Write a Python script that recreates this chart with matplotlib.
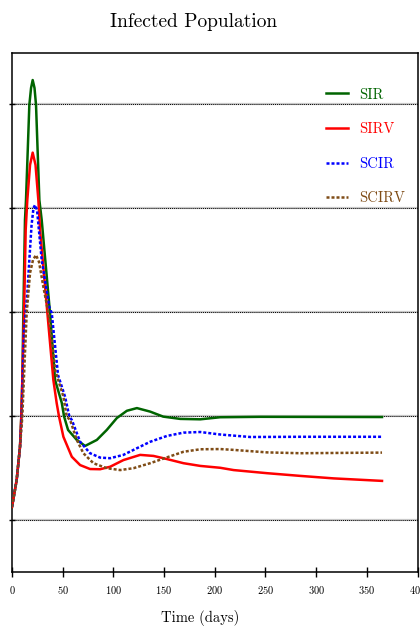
import matplotlib
matplotlib.use("Agg")
import matplotlib.pyplot as plt

plt.rcParams['font.family'] = ['cmr10', 'DejaVu Serif']
plt.rcParams['axes.formatter.use_mathtext'] = True

# values (day, infected fraction)
sir_days = [0, 4.6, 7.9, 9.2, 10.2, 11.2, 12.8, 13.8, 17.1, 18.8, 20.4, 22.2, 23.7, 27, 29.3,
            37.5, 42.5, 49.1, 51.4, 55.3, 63.9, 72.1, 83.7, 93.5, 103.4, 113.3, 123.2, 136.3,
            149.1, 165.9, 185.7, 205.4, 245, 365]
sir_vals = [0.0063, 0.0192, 0.0352, 0.05, 0.0673, 0.0995, 0.1442, 0.1538, 0.1995, 0.2077,
            0.2115, 0.2077, 0.1995, 0.1538, 0.1442, 0.0995, 0.0673, 0.0563, 0.0497, 0.0433,
            0.0385, 0.0356, 0.0385, 0.0433, 0.049, 0.0525, 0.0538, 0.0521, 0.0497, 0.0486,
            0.0484, 0.0494, 0.0496, 0.0495]

sirv_days = [0, 4.6, 7.9, 9.2, 10.2, 11.9, 13.5, 15.1, 17.8, 20.4, 23.2, 26, 27.7, 34.9, 40.8,
             44.1, 46.4, 50.7, 59, 67.2, 77, 86.9, 96.8, 109.9, 126.4, 139.6, 152.8, 169.2,
             185.7, 205.4, 218.6, 251.6, 284.4, 317.3, 365]
sirv_vals = [0.0063, 0.0192, 0.0352, 0.05, 0.0673, 0.0995, 0.1394, 0.1538, 0.1707, 0.1766,
             0.1707, 0.1538, 0.1394, 0.0995, 0.0673, 0.0561, 0.0497, 0.04, 0.0304, 0.0264,
             0.0245, 0.0244, 0.0256, 0.0288, 0.0313, 0.0308, 0.0293, 0.0273, 0.026, 0.0251,
             0.024, 0.0225, 0.0212, 0.02, 0.0188]

scir_days = [0, 4.6, 7.9, 9.6, 11.9, 15.1, 17.1, 19.3, 21.2, 22.7, 24.7, 29.3, 36.8, 39.2,
             45.4, 52.3, 56.6, 59, 67.2, 77, 86.9, 96.8, 109.9, 123.2, 136.3, 152.8, 169.2,
             185.7, 205.4, 235, 284.4, 365]
scir_vals = [0.0063, 0.0192, 0.0352, 0.05, 0.0913, 0.1091, 0.125, 0.1418, 0.15, 0.1514, 0.149,
             0.125, 0.1024, 0.0995, 0.0697, 0.0593, 0.0497, 0.0481, 0.0376, 0.0321, 0.03,
             0.0297, 0.0313, 0.0345, 0.0376, 0.0404, 0.042, 0.0423, 0.0411, 0.0399, 0.04, 0.04]

scirv_days = [0, 4.6, 7.9, 10.2, 12.8, 14.5, 17.8, 20.7, 23.7, 26.7, 30.9, 35.9, 40.8, 42.5,
              50.7, 54, 57.3, 63.9, 70.4, 80.3, 93.5, 106.7, 119.8, 136.3, 152.8, 169.2,
              185.7, 205.4, 218.6, 251.6, 284.4, 365]
scirv_vals = [0.0063, 0.0192, 0.0352, 0.05, 0.0803, 0.0995, 0.1188, 0.125, 0.1274, 0.124,
              0.1122, 0.0995, 0.0803, 0.0721, 0.0593, 0.0497, 0.0481, 0.0385, 0.0321, 0.0273,
              0.0249, 0.024, 0.0249, 0.0273, 0.0301, 0.0328, 0.034, 0.0341, 0.0337, 0.0325,
              0.0321, 0.0324]

x_ticks = [0, 50, 100, 150, 200, 250, 300, 350, 400]
y_ticks = [0.0, 0.05, 0.10, 0.15, 0.20]

fig = plt.figure(figsize=(4.2, 6.3), dpi=100)
ax = fig.add_axes([12 / 420, 1 - 572 / 630, 405.5 / 420, 519 / 630])

# grid: grey band under a fine black dotted line
for yv in y_ticks:
    ax.axhline(yv, color='#c8c8c8', lw=1.6, zorder=1)
    ax.axhline(yv, color='black', lw=0.7, ls=(0, (1, 1)), zorder=1.1)

ax.plot(sir_days, sir_vals, color='#006400', lw=1.8, label='SIR', zorder=3)
ax.plot(sirv_days, sirv_vals, color='#ff0000', lw=1.8, label='SIRV', zorder=3)
ax.plot(scir_days, scir_vals, color='#0000ff', lw=1.8, ls=(0, (1.2, 0.8)), label='SCIR', zorder=3)
ax.plot(scirv_days, scirv_vals, color='#7f4c16', lw=1.8, ls=(0, (1.2, 0.8)), label='SCIRV', zorder=3)

ax.set_xlim(0, 400)
ax.set_ylim(-0.025, 0.2245)
ax.set_xticks(x_ticks)
ax.set_yticks(y_ticks)
ax.set_yticklabels([])
ax.tick_params(axis='x', direction='inout', length=7, width=1, labelsize=7.5, pad=5)
ax.tick_params(axis='y', direction='inout', length=4, width=1)
for sp in ax.spines.values():
    sp.set_linewidth(1.1)

ax.set_xlabel('Time (days)', fontsize=10.5)
ax.xaxis.set_label_coords(0.464, -0.073)

fig.text(194 / 420, 1 - 22 / 630, 'Infected Population', fontsize=14, ha='center', va='center')

leg = ax.legend(loc='upper left', bbox_to_anchor=(0.756, 0.947), frameon=False,
                fontsize=10.5, handlelength=1.5, handletextpad=0.8, labelspacing=1.43,
                borderpad=0)
for txt, line in zip(leg.get_texts(), leg.get_lines()):
    txt.set_color(line.get_color())

fig.savefig('out.png', dpi=100)
